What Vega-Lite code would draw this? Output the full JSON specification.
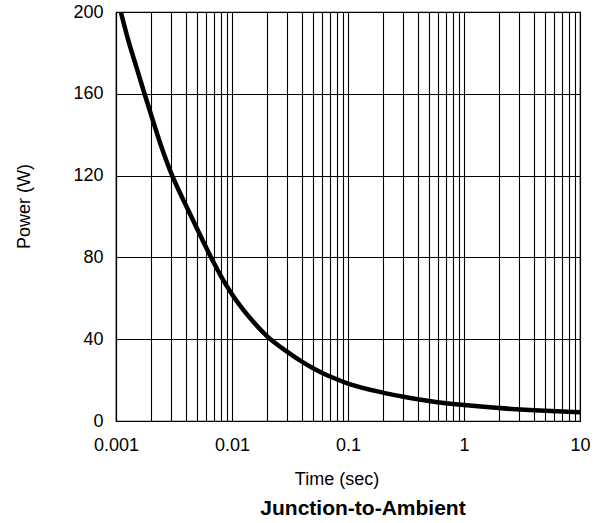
{
  "$schema": "https://vega.github.io/schema/vega-lite/v6.json",
  "width": 464,
  "height": 409,
  "autosize": {"type": "none"},
  "padding": {"left": 116, "top": 12, "right": 23, "bottom": 102},
  "background": "white",
  "config": {
    "view": {"stroke": "black", "strokeWidth": 1.2},
    "font": "Liberation Sans",
    "axis": {
      "domainColor": "black",
      "domainWidth": 1.2,
      "gridColor": "black",
      "gridOpacity": 1,
      "gridWidth": 1.1,
      "ticks": false,
      "tickSize": 0,
      "labelColor": "black",
      "labelFontSize": 18,
      "labelFont": "Liberation Sans",
      "titleColor": "black",
      "titleFontSize": 18,
      "titleFont": "Liberation Sans",
      "titleFontWeight": "normal",
      "labelOverlap": false,
      "labelFlush": false
    }
  },
  "title": {
    "text": "Junction-to-Ambient",
    "orient": "bottom",
    "anchor": "middle",
    "fontSize": 21,
    "fontWeight": "bold",
    "font": "Liberation Sans",
    "color": "black",
    "offset": 10,
    "dx": 15
  },
  "data": {
    "values": [
      {"time": 0.0011, "power": 200},
      {"time": 0.00125, "power": 188},
      {"time": 0.0015, "power": 173},
      {"time": 0.00174, "power": 161},
      {"time": 0.002, "power": 150},
      {"time": 0.0025, "power": 133},
      {"time": 0.003, "power": 121},
      {"time": 0.0035, "power": 112.5},
      {"time": 0.004, "power": 105.5},
      {"time": 0.005, "power": 94},
      {"time": 0.00646, "power": 81},
      {"time": 0.008, "power": 71},
      {"time": 0.01, "power": 62},
      {"time": 0.015, "power": 49},
      {"time": 0.02, "power": 41.5},
      {"time": 0.03, "power": 33.8},
      {"time": 0.04, "power": 29},
      {"time": 0.05, "power": 25.8},
      {"time": 0.06, "power": 23.5},
      {"time": 0.08, "power": 20.4},
      {"time": 0.1, "power": 18.3},
      {"time": 0.2, "power": 13.9},
      {"time": 0.3, "power": 11.9},
      {"time": 0.5, "power": 9.8},
      {"time": 1, "power": 7.8},
      {"time": 2, "power": 6.3},
      {"time": 5, "power": 5.0},
      {"time": 10, "power": 4.3}
    ]
  },
  "mark": {"type": "line", "color": "black", "strokeWidth": 4.5, "interpolate": "monotone", "clip": true},
  "encoding": {
    "x": {
      "field": "time",
      "type": "quantitative",
      "scale": {"type": "log", "domain": [0.001, 10]},
      "axis": {
        "title": "Time (sec)",
        "values": [0.001, 0.002, 0.003, 0.004, 0.005, 0.006, 0.007, 0.008, 0.009, 0.01, 0.02, 0.03, 0.04, 0.05, 0.06, 0.07, 0.08, 0.09, 0.1, 0.2, 0.3, 0.4, 0.5, 0.6, 0.7, 0.8, 0.9, 1, 2, 3, 4, 5, 6, 7, 8, 9, 10],
        "format": "~g",
        "labelExpr": "indexof([0.001, 0.01, 0.1, 1, 10], datum.value) >= 0 ? datum.label : ''",
        "labelPadding": 15,
        "grid": true,
        "titleX": 220.5,
        "titleY": 63,
        "titleBaseline": "alphabetic"
      }
    },
    "y": {
      "field": "power",
      "type": "quantitative",
      "scale": {"domain": [0, 200]},
      "axis": {
        "title": "Power  (W)",
        "values": [0, 40, 80, 120, 160, 200],
        "labelPadding": 13,
        "grid": true,
        "titleX": -86.5,
        "titleY": 194,
        "titleBaseline": "alphabetic"
      }
    }
  }
}
